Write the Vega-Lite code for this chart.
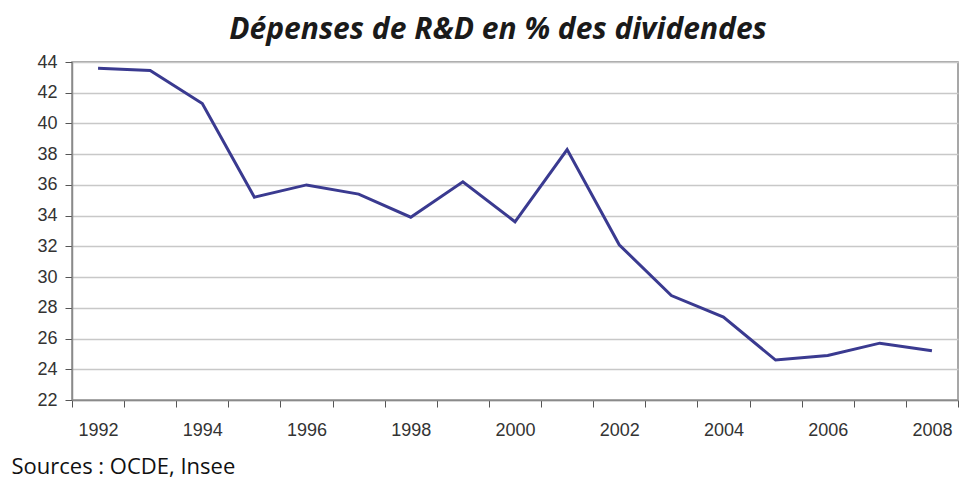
{
  "$schema": "https://vega.github.io/schema/vega-lite/v6.json",
  "width": 886,
  "height": 338,
  "autosize": "none",
  "padding": {"left": 72, "top": 62, "right": 13, "bottom": 79},
  "background": "white",
  "config": {
    "view": {"stroke": "#8a8a8a", "strokeWidth": 1.5},
    "font": "Liberation Sans"
  },
  "title": {
    "text": "Dépenses de R&D en % des dividendes",
    "font": "Open Sans",
    "fontSize": 30,
    "fontWeight": "bold",
    "fontStyle": "italic",
    "color": "#1a1a1a",
    "anchor": "middle",
    "dx": -17,
    "offset": 8
  },
  "data": {
    "values": [
      {"year": 1992, "value": 43.6},
      {"year": 1993, "value": 43.45},
      {"year": 1994, "value": 41.3},
      {"year": 1995, "value": 35.2},
      {"year": 1996, "value": 36.0},
      {"year": 1997, "value": 35.4},
      {"year": 1998, "value": 33.9},
      {"year": 1999, "value": 36.2},
      {"year": 2000, "value": 33.6},
      {"year": 2001, "value": 38.3},
      {"year": 2002, "value": 32.1},
      {"year": 2003, "value": 28.8},
      {"year": 2004, "value": 27.4},
      {"year": 2005, "value": 24.6},
      {"year": 2006, "value": 24.9},
      {"year": 2007, "value": 25.7},
      {"year": 2008, "value": 25.2}
    ]
  },
  "mark": {"type": "line", "color": "#3a3a90", "strokeWidth": 3},
  "encoding": {
    "x": {
      "field": "year",
      "type": "ordinal",
      "bandPosition": 0.5,
      "scale": {"type": "band", "paddingInner": 0, "paddingOuter": 0},
      "axis": {
        "title": "Sources : OCDE, Insee",
        "titleFont": "Open Sans",
        "titleFontSize": 22,
        "titleFontWeight": "normal",
        "titleColor": "#111111",
        "titleAnchor": "start",
        "titleAlign": "left",
        "titleBaseline": "bottom",
        "titleX": -61,
        "titleY": 78,
        "labelAngle": 0,
        "labelExpr": "datum.value % 2 == 0 ? datum.label : ''",
        "labelFontSize": 18,
        "labelColor": "#333333",
        "labelPadding": 14,
        "tickBand": "extent",
        "tickSize": 7,
        "tickColor": "#555555",
        "domainColor": "#8a8a8a",
        "domainWidth": 1.5,
        "grid": false
      }
    },
    "y": {
      "field": "value",
      "type": "quantitative",
      "scale": {"domain": [22, 44], "nice": false, "zero": false},
      "axis": {
        "title": null,
        "values": [22, 24, 26, 28, 30, 32, 34, 36, 38, 40, 42, 44],
        "labelFontSize": 18,
        "labelColor": "#333333",
        "labelPadding": 8,
        "tickSize": 7,
        "tickColor": "#555555",
        "domainColor": "#8a8a8a",
        "domainWidth": 1.5,
        "gridColor": "#c8c8c8",
        "gridWidth": 1.5
      }
    }
  }
}
